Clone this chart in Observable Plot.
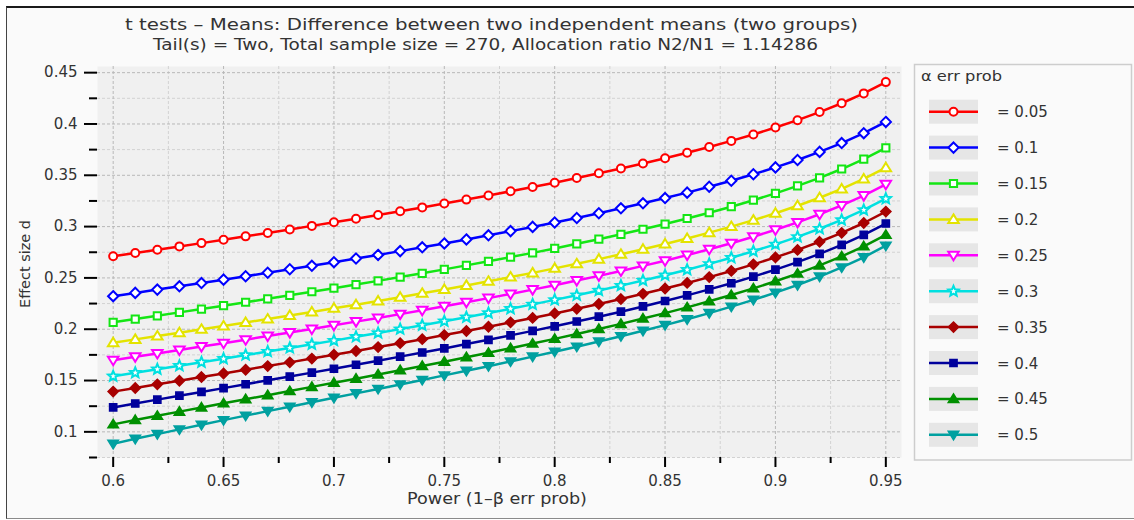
<!DOCTYPE html>
<html>
<head>
<meta charset="utf-8">
<script src="https://cdn.jsdelivr.net/npm/d3@7"></script>
<script src="https://cdn.jsdelivr.net/npm/@observablehq/plot@0.6"></script>
<style>
  body { margin: 0; background: #ffffff; font-family: "DejaVu Sans", sans-serif; }
  #wrap { position: relative; width: 1134px; height: 520px; overflow: hidden; background: #ffffff; }
  #frame { position: absolute; left: 6px; top: 6px; width: 1160px; height: 513px; box-sizing: border-box;
           border-top: 2px solid #1a1a1a; border-left: 1.5px solid #444; border-bottom: 1.5px solid #8a8a8a;
           background: #fafafa; }
  #chart { position: absolute; left: 0; top: 0; }
  #overlay { position: absolute; left: 0; top: 0; pointer-events: none; }
</style>
</head>
<body>
<div id="wrap">
  <div id="frame"></div>
  <div id="chart"></div>
  <svg id="overlay" width="1134" height="520"></svg>
</div>
<script>
// ---------------- data ----------------
const titleText = "t tests \u2013 Means: Difference between two independent means (two groups)";
const subtitleText = "Tail(s) = Two, Total sample size = 270, Allocation ratio N2/N1 = 1.14286";
const xLabel = "Power (1\u2013\u03b2 err prob)";
const yLabel = "Effect size d";
const legendTitle = "\u03b1 err prob";

const power = [0.60,0.61,0.62,0.63,0.64,0.65,0.66,0.67,0.68,0.69,0.70,0.71,0.72,0.73,0.74,0.75,0.76,0.77,
               0.78,0.79,0.80,0.81,0.82,0.83,0.84,0.85,0.86,0.87,0.88,0.89,0.90,0.91,0.92,0.93,0.94,0.95];

const alphaLabels = ["0.05","0.1","0.15","0.2","0.25","0.3","0.35","0.4","0.45","0.5"];

const dA05 = [0.2711,0.2743,0.2775,0.2807,0.2839,0.2872,0.2905,0.2938,0.2972,0.3007,0.3042,0.3077,0.3113,0.3149,0.3187,0.3225,0.3263,0.3303,
              0.3344,0.3386,0.3428,0.3473,0.3519,0.3566,0.3615,0.3666,0.3720,0.3776,0.3835,0.3898,0.3965,0.4037,0.4116,0.4202,0.4298,0.4408];
const dA10 = [0.2322,0.2354,0.2386,0.2418,0.2450,0.2483,0.2516,0.2550,0.2584,0.2618,0.2653,0.2689,0.2724,0.2761,0.2798,0.2836,0.2875,0.2915,
              0.2956,0.2997,0.3040,0.3084,0.3130,0.3178,0.3227,0.3278,0.3331,0.3388,0.3447,0.3510,0.3577,0.3649,0.3728,0.3814,0.3910,0.4020];
const dA15 = [0.2067,0.2099,0.2131,0.2164,0.2196,0.2229,0.2263,0.2296,0.2330,0.2365,0.2400,0.2435,0.2471,0.2508,0.2545,0.2583,0.2622,0.2662,
              0.2703,0.2744,0.2787,0.2832,0.2877,0.2925,0.2974,0.3025,0.3079,0.3135,0.3194,0.3257,0.3324,0.3397,0.3475,0.3561,0.3658,0.3768];
const dA20 = [0.1869,0.1901,0.1933,0.1966,0.1999,0.2032,0.2066,0.2099,0.2134,0.2168,0.2204,0.2239,0.2275,0.2312,0.2350,0.2388,0.2427,0.2467,
              0.2508,0.2549,0.2593,0.2637,0.2683,0.2730,0.2780,0.2831,0.2884,0.2941,0.3000,0.3063,0.3130,0.3203,0.3281,0.3367,0.3464,0.3574];
const dA25 = [0.1698,0.1731,0.1764,0.1797,0.1831,0.1864,0.1898,0.1933,0.1967,0.2002,0.2038,0.2074,0.2110,0.2147,0.2185,0.2224,0.2263,0.2303,
              0.2344,0.2386,0.2429,0.2474,0.2520,0.2568,0.2617,0.2668,0.2722,0.2779,0.2838,0.2901,0.2969,0.3041,0.3120,0.3206,0.3302,0.3412];
const dA30 = [0.1542,0.1576,0.1610,0.1644,0.1678,0.1713,0.1748,0.1782,0.1818,0.1853,0.1889,0.1926,0.1963,0.2001,0.2039,0.2078,0.2117,0.2158,
              0.2199,0.2242,0.2286,0.2331,0.2377,0.2425,0.2475,0.2526,0.2580,0.2637,0.2697,0.2760,0.2827,0.2900,0.2979,0.3065,0.3162,0.3272];
const dA35 = [0.1392,0.1427,0.1463,0.1498,0.1534,0.1569,0.1605,0.1641,0.1677,0.1714,0.1751,0.1788,0.1826,0.1864,0.1903,0.1943,0.1983,0.2024,
              0.2067,0.2110,0.2154,0.2199,0.2246,0.2294,0.2345,0.2397,0.2451,0.2508,0.2568,0.2632,0.2700,0.2773,0.2852,0.2939,0.3035,0.3146];
const dA40 = [0.1238,0.1276,0.1314,0.1352,0.1389,0.1426,0.1464,0.1502,0.1539,0.1577,0.1615,0.1654,0.1693,0.1733,0.1773,0.1813,0.1855,0.1897,
              0.1940,0.1984,0.2028,0.2075,0.2122,0.2171,0.2222,0.2275,0.2330,0.2388,0.2448,0.2512,0.2581,0.2654,0.2734,0.2821,0.2919,0.3030];
const dA45 = [0.1073,0.1115,0.1156,0.1197,0.1237,0.1278,0.1318,0.1357,0.1397,0.1438,0.1478,0.1518,0.1559,0.1600,0.1642,0.1684,0.1727,0.1770,
              0.1815,0.1860,0.1906,0.1953,0.2002,0.2052,0.2104,0.2157,0.2213,0.2272,0.2333,0.2398,0.2467,0.2542,0.2622,0.2710,0.2808,0.2920];
const dA50 = [0.0883,0.0932,0.0978,0.1024,0.1069,0.1114,0.1158,0.1202,0.1245,0.1288,0.1332,0.1375,0.1418,0.1462,0.1506,0.1550,0.1595,0.1640,
              0.1686,0.1733,0.1781,0.1830,0.1880,0.1932,0.1985,0.2040,0.2097,0.2157,0.2220,0.2286,0.2356,0.2431,0.2513,0.2602,0.2701,0.2814];

const xTickMajor = [0.60,0.65,0.70,0.75,0.80,0.85,0.90,0.95];
const xTickMinor = [0.625,0.675,0.725,0.775,0.825,0.875,0.925];
const yTickMajor = [0.10,0.15,0.20,0.25,0.30,0.35,0.40,0.45];
const yTickMinor = [0.075,0.125,0.175,0.225,0.275,0.325,0.375,0.425];

// ---------------- styles ----------------
const seriesValues = [dA05,dA10,dA15,dA20,dA25,dA30,dA35,dA40,dA45,dA50];
const seriesColors = ["#ff0000","#0000ff","#14e614","#e3e300","#ff00ff","#00e0e0","#a80000","#00009c","#009000","#00a0a0"];
const seriesShapes = ["circle","diamond","square","triUp","triDown","star","diamond","square","triUp","triDown"];
const seriesFilled = [false,false,false,false,false,false,true,true,true,true];

const shapes = {
  circle: {draw(c, s) { const r = Math.sqrt(s / Math.PI); c.moveTo(r, 0); c.arc(0, 0, r, 0, 2 * Math.PI); }},
  diamond: {draw(c, s) { const r = Math.sqrt(s / Math.PI) * 1.28; c.moveTo(0, -r); c.lineTo(r, 0); c.lineTo(0, r); c.lineTo(-r, 0); c.closePath(); }},
  square: {draw(c, s) { const h = Math.sqrt(s / Math.PI) * 0.9; c.moveTo(-h, -h); c.lineTo(h, -h); c.lineTo(h, h); c.lineTo(-h, h); c.closePath(); }},
  triUp: {draw(c, s) { const r = Math.sqrt(s / Math.PI) * 1.25; c.moveTo(0, -r); c.lineTo(r * 1.05, r * 0.7); c.lineTo(-r * 1.05, r * 0.7); c.closePath(); }},
  triDown: {draw(c, s) { const r = Math.sqrt(s / Math.PI) * 1.25; c.moveTo(0, r); c.lineTo(r * 1.05, -r * 0.7); c.lineTo(-r * 1.05, -r * 0.7); c.closePath(); }},
  star: {draw(c, s) {
    const R = Math.sqrt(s / Math.PI) * 1.35, ri = R * 0.45;
    for (let k = 0; k < 10; k++) {
      const a = -Math.PI / 2 + k * Math.PI / 5, rr = k % 2 ? ri : R;
      const px = rr * Math.cos(a), py = rr * Math.sin(a);
      if (k === 0) c.moveTo(px, py); else c.lineTo(px, py);
    }
    c.closePath();
  }}
};

const fmt = d => String(+d.toFixed(3));
const allXGrid = [...xTickMajor, ...xTickMinor];
const allYGrid = [...yTickMajor, ...yTickMinor];

// ---------------- marks ----------------
const seriesMarks = [];
seriesValues.forEach((vals, i) => {
  const rows = power.map((p, j) => ({alpha: alphaLabels[i], power: p, d: vals[j]}));
  seriesMarks.push(Plot.line(rows, {x: "power", y: "d", stroke: seriesColors[i], strokeWidth: 2.5}));
  seriesMarks.push(Plot.dot(rows, {
    x: "power", y: "d", symbol: shapes[seriesShapes[i]], r: 4,
    stroke: seriesColors[i], fill: seriesFilled[i] ? seriesColors[i] : "#ffffff",
    strokeWidth: seriesFilled[i] ? 1.5 : 2
  }));
});

const chart = Plot.plot({
  width: 1134,
  height: 520,
  marginLeft: 97,
  marginRight: 233,
  marginTop: 66,
  marginBottom: 63,
  style: {background: "transparent", fontFamily: "DejaVu Sans, sans-serif", fontSize: "15px", color: "#333"},
  x: {domain: [0.5929, 0.9571], label: null},
  y: {domain: [0.075, 0.456], label: null},
  marks: [
    Plot.frame({fill: "#f0f0f0", stroke: "none"}),
    Plot.gridX(xTickMinor, {stroke: "#d2d2d2", strokeOpacity: 1, strokeDasharray: "3,2"}),
    Plot.gridY(yTickMinor, {stroke: "#d2d2d2", strokeOpacity: 1, strokeDasharray: "3,2"}),
    Plot.gridX(xTickMajor, {stroke: "#b8b8b8", strokeOpacity: 1, strokeDasharray: "3,2"}),
    Plot.gridY(yTickMajor, {stroke: "#b8b8b8", strokeOpacity: 1, strokeDasharray: "3,2"}),
    ...seriesMarks,
    Plot.axisX(xTickMajor, {anchor: "bottom", tickSize: 10, tickPadding: 8, tickFormat: fmt, label: null,
                            stroke: "#000", strokeWidth: 2, fill: "#333", line: true}),
    Plot.axisX(xTickMinor, {anchor: "bottom", tickSize: 6, label: null, stroke: "#000", strokeWidth: 2, fill: "none"}),
    Plot.axisY(yTickMajor, {anchor: "left", tickSize: 13, tickPadding: 7, tickFormat: fmt, label: null,
                            stroke: "#000", strokeWidth: 2, fill: "#333", line: true}),
    Plot.axisY(yTickMinor, {anchor: "left", tickSize: 8, label: null, stroke: "#000", strokeWidth: 2, fill: "none"})
  ]
});
document.getElementById("chart").appendChild(chart);

// ---------------- overlay: titles, axis labels, legend ----------------
const ov = d3.select("#overlay").attr("font-family", "DejaVu Sans, sans-serif");

function stretchText(sel, target) {
  sel.attr("textLength", target).attr("lengthAdjust", "spacingAndGlyphs");
}

stretchText(ov.append("text").attr("x", 491.5).attr("y", 30).attr("text-anchor", "middle")
  .attr("font-size", 16).attr("fill", "#333").text(titleText), 733);
stretchText(ov.append("text").attr("x", 485.5).attr("y", 50).attr("text-anchor", "middle")
  .attr("font-size", 15).attr("fill", "#333").text(subtitleText), 665);
stretchText(ov.append("text").attr("x", 497).attr("y", 503.5).attr("text-anchor", "middle")
  .attr("font-size", 15).attr("fill", "#333").text(xLabel), 180);
stretchText(ov.append("text").attr("transform", "translate(30,264) rotate(-90)").attr("text-anchor", "middle")
  .attr("font-size", 14.5).attr("fill", "#333").text(yLabel), 88);

// legend
const lg = ov.append("g");
lg.append("rect").attr("x", 914.5).attr("y", 64.5).attr("width", 217).attr("height", 395.5)
  .attr("fill", "#fafafa").attr("stroke", "#cdcdcd").attr("stroke-width", 1.5);
stretchText(lg.append("text").attr("x", 921).attr("y", 81).attr("font-size", 13.5).attr("fill", "#333")
  .text(legendTitle), 81);

alphaLabels.forEach((a, i) => {
  const cy = 111.7 + i * 35.9;
  const g = lg.append("g").attr("transform", `translate(0,${cy})`);
  g.append("rect").attr("x", 929).attr("y", -12).attr("width", 49).attr("height", 24).attr("fill", "#e6e6e6");
  g.append("line").attr("x1", 929).attr("x2", 978).attr("y1", 0).attr("y2", 0)
    .attr("stroke", seriesColors[i]).attr("stroke-width", 2.5);
  g.append("path").attr("transform", "translate(953.5,0)")
    .attr("d", d3.symbol(shapes[seriesShapes[i]], Math.PI * 16)())
    .attr("fill", seriesFilled[i] ? seriesColors[i] : "#ffffff")
    .attr("stroke", seriesColors[i]).attr("stroke-width", seriesFilled[i] ? 1.5 : 2);
  g.append("text").attr("x", 997).attr("y", 5.5).attr("font-size", 15).attr("fill", "#333").text("= " + a);
});
</script>
</body>
</html>
